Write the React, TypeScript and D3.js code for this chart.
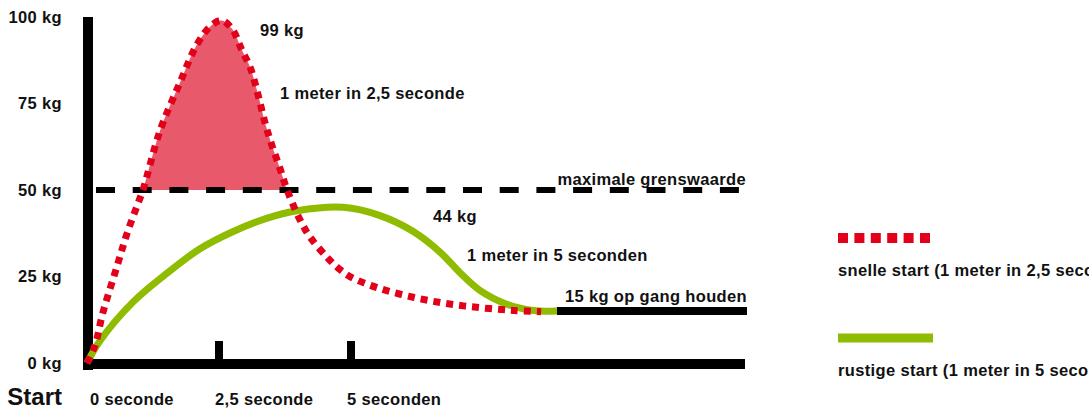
import React from 'react';
import * as d3 from 'd3';

// kg tick labels on the left
const yTicks = [0, 25, 50, 75, 100];
// time labels under the axis (seconds)
const xLabels = [
    { t: 0, label: '0 seconde' },
    { t: 2.5, label: '2,5 seconde' },
    { t: 5, label: '5 seconden' },
];
const xTickMarks = [2.5, 5];

const limitKg = 50;
const cruiseKg = 15;
const cruiseFrom = 8.9;

// snelle start: [seconds, kg]
const fastStart: [number, number][] = [
    [0, 0], [0.15, 5], [0.3, 14.5], [0.57, 28], [0.76, 37.5], [0.95, 45.5], [1.06, 50],
    [1.38, 67], [1.76, 81], [2.08, 92], [2.35, 97.5], [2.55, 99], [2.75, 96.5],
    [2.93, 90.5], [3.09, 85.5], [3.24, 77.5], [3.37, 69.5], [3.5, 63], [3.66, 56],
    [3.79, 50], [4.03, 41.5], [4.22, 36.5], [4.55, 30.5], [4.79, 27], [5.04, 24.5],
    [5.55, 21.5], [6.18, 19], [6.8, 17.2], [7.44, 16], [8.07, 15.2], [8.6, 14.8],
];

// rustige start: [seconds, kg]
const calmStart: [number, number][] = [
    [0, 0], [0.25, 6.5], [0.87, 17.6], [1.52, 26], [2.14, 33], [2.77, 38], [3.4, 41.8],
    [3.98, 44], [4.85, 45], [5.55, 42.6], [6.18, 38], [6.69, 32], [7.07, 26],
    [7.44, 21], [7.95, 17], [8.45, 15.2], [8.9, 15],
];

const RED = '#e2001a';
const FILL = '#e9596c';
const GREEN = '#8fbc00';
const FONT = '"Liberation Sans", Arial, Helvetica, sans-serif';

const App: React.FC = () => {
    const width = 1089;
    const height = 411;

    const x = d3.scaleLinear().domain([0, 12.5]).range([87, 747]);
    const y = d3.scaleLinear().domain([0, 100]).range([363, 17]);

    const line = d3.line<[number, number]>()
        .x(d => x(d[0]))
        .y(d => y(d[1]))
        .curve(d3.curveCatmullRom.alpha(0.5));

    const area = d3.area<[number, number]>()
        .x(d => x(d[0]))
        .y0(y(limitKg))
        .y1(d => y(d[1]))
        .curve(d3.curveCatmullRom.alpha(0.5));

    const textStyle = {
        fontFamily: FONT, fontWeight: 700, fontSize: 16.5, fill: '#111', letterSpacing: 0.35,
    };

    return (
        <div style={{ position: 'absolute', left: 0, top: 0 }}>
            <svg width={width} height={height} style={{ display: 'block', background: '#fff' }}>
                <defs>
                    <clipPath id="aboveLimit">
                        <rect x={0} y={0} width={width} height={y(limitKg)} />
                    </clipPath>
                </defs>

                {/* fill of the fast start above the limit */}
                <path d={area(fastStart) || ''} fill={FILL} clipPath="url(#aboveLimit)" />

                {/* axes */}
                <rect x={83} y={y(100)} width={10} height={y(0) - y(100) + 7} fill="#000" />
                <rect x={83} y={y(0) - 4} width={x(12.5) - 85} height={10} fill="#000" />
                {xTickMarks.map(t => (
                    <rect key={t} x={x(t) - 4} y={y(0) - 22} width={8} height={22} fill="#000" />
                ))}

                {/* maximum limit */}
                <line x1={96} x2={x(12.5)} y1={y(limitKg)} y2={y(limitKg)}
                    stroke="#000" strokeWidth={6} strokeDasharray="19,17.7" />

                {/* cruise line */}
                <line x1={x(cruiseFrom)} x2={x(12.5)} y1={y(cruiseKg)} y2={y(cruiseKg)}
                    stroke="#000" strokeWidth={8} />

                {/* curves */}
                <path d={line(calmStart) || ''} fill="none" stroke={GREEN} strokeWidth={7} />
                <path d={line(fastStart) || ''} fill="none" stroke={RED} strokeWidth={7}
                    strokeDasharray="7,6" />

                {/* y labels */}
                {yTicks.map(v => (
                    <text key={v} x={62} y={y(v)} dy="0.35em" textAnchor="end" {...textStyle}>
                        {v} kg
                    </text>
                ))}

                {/* x labels */}
                <text x={62} y={405} textAnchor="end" {...textStyle} fontSize={24}
                    letterSpacing={0}>Start</text>
                {xLabels.map(d => (
                    <text key={d.label} x={x(d.t) + (d.t === 0 ? 3 : -4)} y={405} {...textStyle}>
                        {d.label}
                    </text>
                ))}

                {/* annotations */}
                <text x={260} y={36} {...textStyle}>99 kg</text>
                <text x={280} y={99} {...textStyle}>1 meter in 2,5 seconde</text>
                <text x={746} y={185} textAnchor="end" {...textStyle}>maximale grenswaarde</text>
                <text x={433} y={222} {...textStyle}>44 kg</text>
                <text x={467} y={261} {...textStyle}>1 meter in 5 seconden</text>
                <text x={747} y={302} textAnchor="end" {...textStyle}>15 kg op gang houden</text>

                {/* legend */}
                <line x1={838} x2={930} y1={238} y2={238} stroke={RED} strokeWidth={10}
                    strokeDasharray="10,6.4" />
                <text x={838} y={276} {...textStyle}>snelle start (1 meter in 2,5 seconde)</text>
                <line x1={838} x2={933} y1={338} y2={338} stroke={GREEN} strokeWidth={9} />
                <text x={838} y={376} {...textStyle}>rustige start (1 meter in 5 seconden)</text>
            </svg>
        </div>
    );
};

export default App;
